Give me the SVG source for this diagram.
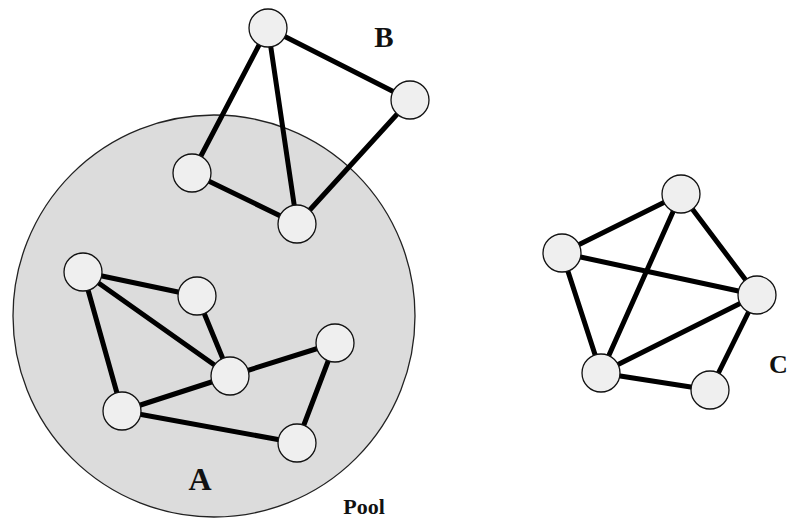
<svg xmlns="http://www.w3.org/2000/svg" width="790" height="521" viewBox="0 0 790 521">
<style>
.pool{fill:#dcdcdc;stroke:#222;stroke-width:1.3}
.n{fill:#efefef;stroke:#111;stroke-width:1.3}
.e{stroke:#000;stroke-width:5;stroke-linecap:round}
.lbl{font-family:"Liberation Serif",serif;font-weight:bold;fill:#111}
</style>
<rect width="790" height="521" fill="#fff"/>
<g id="pool"><circle class="pool" cx="214" cy="316" r="201"/></g>
<g id="connectors">
<line class="e" x1="268" y1="28" x2="192" y2="173"/>
<line class="e" x1="268" y1="28" x2="297" y2="224"/>
<line class="e" x1="268" y1="28" x2="410" y2="100"/>
<line class="e" x1="410" y1="100" x2="297" y2="224"/>
<line class="e" x1="192" y1="173" x2="297" y2="224"/>
<line class="e" x1="83" y1="272" x2="197" y2="296"/>
<line class="e" x1="83" y1="272" x2="230" y2="376"/>
<line class="e" x1="83" y1="272" x2="122" y2="411"/>
<line class="e" x1="197" y1="296" x2="230" y2="376"/>
<line class="e" x1="230" y1="376" x2="335" y2="343"/>
<line class="e" x1="230" y1="376" x2="122" y2="411"/>
<line class="e" x1="122" y1="411" x2="297" y2="443"/>
<line class="e" x1="335" y1="343" x2="297" y2="443"/>
<line class="e" x1="681" y1="194" x2="562" y2="253"/>
<line class="e" x1="681" y1="194" x2="601" y2="373"/>
<line class="e" x1="681" y1="194" x2="757" y2="295"/>
<line class="e" x1="562" y1="253" x2="757" y2="295"/>
<line class="e" x1="562" y1="253" x2="601" y2="373"/>
<line class="e" x1="757" y1="295" x2="601" y2="373"/>
<line class="e" x1="757" y1="295" x2="710" y2="390"/>
<line class="e" x1="601" y1="373" x2="710" y2="390"/>
</g>
<g id="B1"><circle class="n" cx="268" cy="28" r="19"/></g>
<g id="B2"><circle class="n" cx="410" cy="100" r="19"/></g>
<g id="B3"><circle class="n" cx="192" cy="173" r="19"/></g>
<g id="B4"><circle class="n" cx="297" cy="224" r="19"/></g>
<g id="A1"><circle class="n" cx="83" cy="272" r="19"/></g>
<g id="A2"><circle class="n" cx="197" cy="296" r="19"/></g>
<g id="A3"><circle class="n" cx="230" cy="376" r="19"/></g>
<g id="A4"><circle class="n" cx="335" cy="343" r="19"/></g>
<g id="A5"><circle class="n" cx="122" cy="411" r="19"/></g>
<g id="A6"><circle class="n" cx="297" cy="443" r="19"/></g>
<g id="C1"><circle class="n" cx="681" cy="194" r="19"/></g>
<g id="C2"><circle class="n" cx="562" cy="253" r="19"/></g>
<g id="C3"><circle class="n" cx="757" cy="295" r="19"/></g>
<g id="C4"><circle class="n" cx="601" cy="373" r="19"/></g>
<g id="C5"><circle class="n" cx="710" cy="390" r="19"/></g>
<g id="labels">
<text class="lbl" x="384" y="47" font-size="29" text-anchor="middle">B</text>
<text class="lbl" x="200" y="490" font-size="32" text-anchor="middle">A</text>
<text class="lbl" x="364" y="514" font-size="22" text-anchor="middle">Pool</text>
<text class="lbl" x="769" y="373" font-size="26">C</text>
</g>
</svg>
